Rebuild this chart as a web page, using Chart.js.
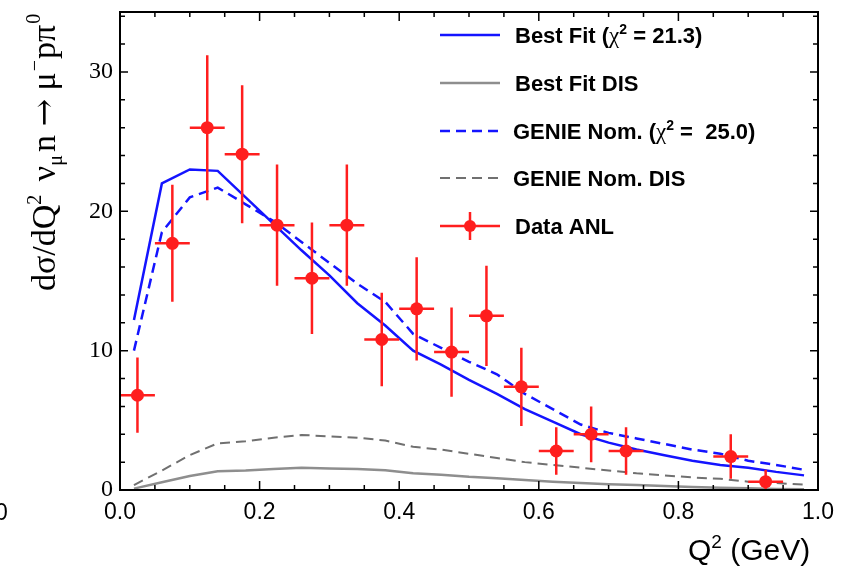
<!DOCTYPE html>
<html>
<head>
<meta charset="utf-8">
<script src="https://cdn.jsdelivr.net/npm/chart.js@4.4.1/dist/chart.umd.min.js"></script>
<style>
  html, body { margin: 0; padding: 0; background: #fff; }
  #wrap { width: 844px; height: 569px; }
</style>
</head>
<body>
<div id="wrap"><canvas id="c" width="844" height="569"></canvas></div>
<script>
// model curves, Q2 nodes
const modelQ2 = [0.02, 0.06, 0.10, 0.14, 0.18, 0.22, 0.26, 0.30, 0.34, 0.38, 0.42, 0.46, 0.50,
                 0.54, 0.58, 0.62, 0.66, 0.70, 0.74, 0.78, 0.82, 0.86, 0.90, 0.94, 0.98];
const bestFit = [12.2, 22.0, 23.0, 22.9, 21.0, 19.1, 17.2, 15.4, 13.4, 11.8, 10.0, 9.0, 7.9,
                 6.9, 5.8, 4.9, 4.0, 3.4, 2.9, 2.5, 2.1, 1.8, 1.6, 1.3, 1.05];
const bestFitDIS = [0.1, 0.55, 1.0, 1.35, 1.4, 1.5, 1.6, 1.55, 1.5, 1.42, 1.2, 1.1, 0.95,
                    0.85, 0.72, 0.6, 0.5, 0.42, 0.35, 0.28, 0.22, 0.17, 0.12, 0.08, 0.05];
const genieNom = [10.0, 18.5, 21.0, 21.7, 20.5, 19.3, 17.8, 16.3, 14.8, 13.5, 11.2, 10.2, 9.2,
                  8.3, 6.9, 5.8, 4.7, 4.1, 3.7, 3.3, 2.9, 2.6, 2.1, 1.8, 1.45];
const genieDIS = [0.35, 1.4, 2.5, 3.35, 3.5, 3.75, 3.95, 3.85, 3.75, 3.55, 3.1, 2.9, 2.6,
                  2.3, 2.0, 1.8, 1.6, 1.4, 1.2, 1.05, 0.9, 0.8, 0.6, 0.5, 0.38];

// ANL data
const dataQ2 = [0.025, 0.075, 0.125, 0.175, 0.225, 0.275, 0.325, 0.375, 0.425, 0.475, 0.525,
                0.575, 0.625, 0.675, 0.725, 0.875, 0.925];
const dataQ2Err = [0.025, 0.025, 0.025, 0.025, 0.025, 0.025, 0.025, 0.025, 0.025, 0.025, 0.025,
                   0.025, 0.025, 0.025, 0.025, 0.025, 0.025];
const dataXsec = [6.8, 17.7, 26.0, 24.1, 19.0, 15.2, 19.0, 10.8, 13.0, 9.9, 12.5,
                  7.4, 2.8, 4.0, 2.8, 2.4, 0.6];
const dataErr = [2.7, 4.2, 5.2, 4.95, 4.35, 4.0, 4.35, 3.35, 3.7, 3.2, 3.6,
                 2.8, 1.7, 2.0, 1.7, 1.6, 0.85];

const xTicks = [0, 0.2, 0.4, 0.6, 0.8, 1.0];
const yTicks = [0, 10, 20, 30];

const BLUE = "#1414ff";
const GREY = "#8e8e8e";
const GREY_D = "#707070";
const RED = "#ff1e1e";

function pts(xs, ys) {
  return xs.map((x, i) => ({ x: x, y: ys[i] }));
}

// draw a run of text pieces, each with its own font and vertical shift
function rich(c, x, y, parts) {
  parts.forEach(p => {
    c.font = p.f;
    c.fillText(p.t, x, y + (p.dy || 0));
    x += c.measureText(p.t).width + (p.gap || 0);
  });
}

const frame = {
  id: "frame",
  afterDatasetsDraw(chart) {
    const c = chart.ctx, xs = chart.scales.x, ys = chart.scales.y, a = chart.chartArea;
    c.save();
    c.beginPath();
    c.rect(a.left, a.top, a.right - a.left, a.bottom - a.top);
    c.clip();
    c.strokeStyle = RED;
    c.lineWidth = 2.5;
    for (let i = 0; i < dataQ2.length; i++) {
      const px = xs.getPixelForValue(dataQ2[i]);
      const py = ys.getPixelForValue(dataXsec[i]);
      c.beginPath();
      c.moveTo(xs.getPixelForValue(dataQ2[i] - dataQ2Err[i]), py);
      c.lineTo(xs.getPixelForValue(dataQ2[i] + dataQ2Err[i]), py);
      c.moveTo(px, ys.getPixelForValue(dataXsec[i] - dataErr[i]));
      c.lineTo(px, ys.getPixelForValue(dataXsec[i] + dataErr[i]));
      c.stroke();
    }
    c.restore();
  },
  afterDraw(chart) {
    const c = chart.ctx, xs = chart.scales.x, ys = chart.scales.y, a = chart.chartArea;
    c.save();
    c.strokeStyle = "#000";
    c.lineWidth = 2;
    c.strokeRect(a.left, a.top, a.right - a.left, a.bottom - a.top);

    // ticks inside the frame
    c.lineWidth = 1.5;
    c.beginPath();
    for (let k = 0; k <= 20; k++) {
      const px = xs.getPixelForValue(k * 0.05);
      const len = k % 4 === 0 ? 9 : 5;
      c.moveTo(px, a.bottom); c.lineTo(px, a.bottom - len);
      c.moveTo(px, a.top); c.lineTo(px, a.top + len);
    }
    for (let k = 0; k <= 17; k++) {
      const py = ys.getPixelForValue(k * 2);
      const len = k % 5 === 0 ? 8 : 5;
      c.moveTo(a.left, py); c.lineTo(a.left + len, py);
      c.moveTo(a.right, py); c.lineTo(a.right - len, py);
    }
    c.stroke();

    c.fillStyle = "#000";
    c.textBaseline = "alphabetic";
    c.textAlign = "left";

    // stray label at the far left
    c.font = "23px 'Liberation Sans'";
    c.fillText("0", -5, 520);

    // x title
    rich(c, 688, 560, [
      { t: "Q", f: "30px 'Liberation Sans'" },
      { t: "2", f: "19px 'Liberation Sans'", dy: -12 },
      { t: " (GeV)", f: "30px 'Liberation Sans'" }
    ]);

    // y title, rotated
    c.save();
    c.translate(55, 291);
    c.rotate(-Math.PI / 2);
    const big = "34px 'Liberation Serif'", sm = "20px 'Liberation Serif'";
    rich(c, 0, 0, [
      { t: "d\u03c3/dQ", f: big },
      { t: "2", f: sm, dy: -14, gap: 5 },
      { t: " \u03bd", f: big },
      { t: "\u03bc", f: sm, dy: 7, gap: 3 },
      { t: "n ", f: big },
      { t: "\u2192", f: "33px 'DejaVu Serif'" },
      { t: " \u03bc", f: big, gap: 1 },
      { t: "\u2212", f: sm, dy: -14, gap: 1 },
      { t: "p\u03c0", f: big, gap: 1 },
      { t: "0", f: sm, dy: -15 }
    ]);
    c.restore();

    // legend
    const lx0 = 440, lx1 = 500, tx = 515;
    const rows = [35, 83, 131, 178, 226];
    const styles = [
      { col: BLUE, w: 2.5, dash: [] },
      { col: GREY, w: 2.5, dash: [] },
      { col: BLUE, w: 2.5, dash: [10, 6] },
      { col: GREY_D, w: 2, dash: [10, 6] },
      { col: RED, w: 2.5, dash: [] }
    ];
    rows.forEach((ry, i) => {
      const s = styles[i];
      c.strokeStyle = s.col;
      c.lineWidth = s.w;
      c.setLineDash(s.dash);
      c.beginPath();
      c.moveTo(lx0, ry); c.lineTo(lx1, ry);
      c.stroke();
    });
    c.setLineDash([]);
    c.strokeStyle = RED;
    c.lineWidth = 2.5;
    c.beginPath();
    c.moveTo(470, rows[4] - 14); c.lineTo(470, rows[4] + 14);
    c.stroke();
    c.fillStyle = RED;
    c.beginPath();
    c.arc(470, rows[4], 6, 0, Math.PI * 2);
    c.fill();

    c.fillStyle = "#000";
    const bf = "bold 22px 'Liberation Sans'", chi = "23px 'Liberation Serif'", sup = "bold 14px 'Liberation Sans'";
    const base = 8;
    rich(c, tx, rows[0] + base, [
      { t: "Best Fit (", f: bf }, { t: "\u03c7", f: chi }, { t: "2", f: sup, dy: -9 }, { t: " = 21.3)", f: bf }
    ]);
    rich(c, tx, rows[1] + base, [{ t: "Best Fit DIS", f: bf }]);
    rich(c, tx - 2, rows[2] + base, [
      { t: "GENIE Nom. (", f: bf }, { t: "\u03c7", f: chi }, { t: "2", f: sup, dy: -9 }, { t: " =  25.0)", f: bf }
    ]);
    rich(c, tx - 2, rows[3] + base, [{ t: "GENIE Nom. DIS", f: bf }]);
    rich(c, tx, rows[4] + base, [{ t: "Data ANL", f: bf }]);
    c.restore();
  }
};

const ctx = document.getElementById("c").getContext("2d");
const chart = new Chart(ctx, {
  type: "line",
  data: {
    datasets: [
      {
        label: "Data ANL",
        data: pts(dataQ2, dataXsec),
        showLine: false,
        pointRadius: 6.5,
        pointBackgroundColor: RED,
        pointBorderWidth: 0,
        order: 0
      },
      {
        label: "Best Fit",
        data: pts(modelQ2, bestFit),
        borderColor: BLUE,
        borderWidth: 2.5,
        pointRadius: 0,
        tension: 0,
        order: 1
      },
      {
        label: "GENIE Nom.",
        data: pts(modelQ2, genieNom),
        borderColor: BLUE,
        borderWidth: 2.5,
        borderDash: [10, 6],
        pointRadius: 0,
        tension: 0,
        order: 2
      },
      {
        label: "Best Fit DIS",
        data: pts(modelQ2, bestFitDIS),
        borderColor: GREY,
        borderWidth: 2.5,
        pointRadius: 0,
        tension: 0,
        order: 3
      },
      {
        label: "GENIE Nom. DIS",
        data: pts(modelQ2, genieDIS),
        borderColor: GREY_D,
        borderWidth: 2,
        borderDash: [10, 6],
        pointRadius: 0,
        tension: 0,
        order: 4
      }
    ]
  },
  options: {
    responsive: false,
    animation: false,
    layout: { padding: { left: 0, right: 26, top: 12, bottom: 0 } },
    plugins: { legend: { display: false }, tooltip: { enabled: false } },
    scales: {
      x: {
        type: "linear",
        min: 0,
        max: 1,
        grid: { display: false, drawTicks: false },
        border: { display: false },
        afterBuildTicks: s => { s.ticks = xTicks.map(v => ({ value: v })); },
        ticks: {
          color: "#000",
          font: { family: "'Liberation Sans'", size: 23 },
          padding: 9,
          maxRotation: 0,
          callback: v => v.toFixed(1)
        },
        afterFit: s => { s.height = 79; s.paddingLeft = 0; s.paddingRight = 0; }
      },
      y: {
        type: "linear",
        min: 0,
        max: 34.3,
        grid: { display: false, drawTicks: false },
        border: { display: false },
        afterBuildTicks: s => { s.ticks = yTicks.map(v => ({ value: v })); },
        ticks: {
          color: "#000",
          font: { family: "'Liberation Serif'", size: 24 },
          padding: 7
        },
        afterFit: s => { s.width = 120; s.paddingTop = 0; s.paddingBottom = 0; }
      }
    }
  },
  plugins: [frame]
});
</script>
</body>
</html>
